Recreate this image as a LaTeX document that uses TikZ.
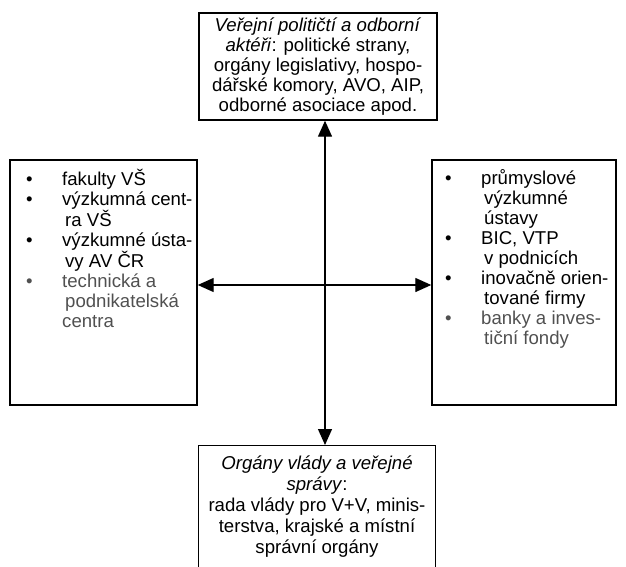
\documentclass[tikz,border=0pt]{standalone}
\usepackage{fontspec}
\setmainfont{Liberation Sans}
\usetikzlibrary{arrows.meta}
\definecolor{txtgray}{RGB}{80,80,80}
\newcommand\bl[1]{\makebox[36pt][l]{•}#1}
\newcommand\ct[1]{\hspace*{39pt}#1}
\begin{document}
\begin{tikzpicture}[x=1pt,y=-1pt,
  box/.style={draw=black,line width=1.4pt,inner sep=0pt},
  txt/.style={font=\fontsize{18.6}{20}\selectfont,inner sep=0pt},
  conn/.style={line width=1.3pt,{Triangle[length=16pt,width=14pt]}-{Triangle[length=16pt,width=14pt]}}]
\useasboundingbox (0,0) rectangle (626,567);
\clip (0,0) rectangle (626,567);
% boxes
\node[box,minimum width=238pt,minimum height=107pt] (T) at (318,66.5) {};
\node[box,minimum width=187pt,minimum height=245pt] (L) at (103.5,282.5) {};
\node[box,minimum width=184pt,minimum height=245pt] (R) at (524,282.5) {};
\node[box,minimum width=237pt,minimum height=140pt,anchor=north] (B) at (317,445) {};
% texts
\node[txt,align=center] (Tt) at (T.center) {\textit{Veřejní političtí a odborní}\\\textit{aktéři}: politické strany,\\orgány legislativy, hospo-\\dářské komory, AVO, AIP,\\odborné asociace apod.};
\node[txt,align=left,anchor=north west] (Lt) at (26,169) {\bl{fakulty VŠ}\\\bl{výzkumná cent-}\\\ct{ra VŠ}\\\bl{výzkumné ústa-}\\\ct{vy AV ČR}\\\textcolor{txtgray}{\bl{technická a}}\\\textcolor{txtgray}{\ct{podnikatelská}}\\\textcolor{txtgray}{\hspace*{36pt}centra}};
\node[txt,align=left,anchor=north west] (Rt) at (445,169) {\bl{průmyslové}\\\ct{výzkumné}\\\ct{ústavy}\\\bl{BIC, VTP}\\\ct{v podnicích}\\\bl{inovačně orien-}\\\ct{tované firmy}\\\textcolor{txtgray}{\bl{banky a inves-}}\\\textcolor{txtgray}{\ct{tiční fondy}}};
\node[txt,font=\fontsize{18.6}{21}\selectfont,align=center,anchor=north] (Bt) at (B.north) [yshift=-11pt] {\textit{Orgány vlády a veřejné}\\\textit{správy}:\\rada vlády pro V+V, minis-\\terstva, krajské a místní\\správní orgány};
% connectors
\coordinate (vx) at (325,0);
\coordinate (hy) at (0,285);
\draw[conn] (T.south -| vx) -- (B.north -| vx);
\draw[conn] (L.east |- hy) -- (R.west |- hy);
\end{tikzpicture}
\end{document}
